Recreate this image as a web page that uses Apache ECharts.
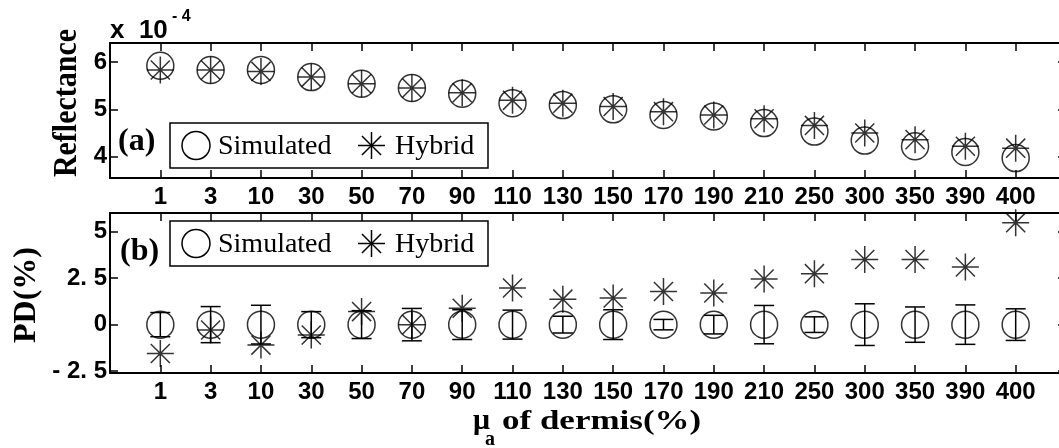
<!DOCTYPE html>
<html>
<head>
<meta charset="utf-8">
<script src="https://cdn.jsdelivr.net/npm/echarts@6/dist/echarts.min.js"></script>
<style>html,body{margin:0;padding:0;background:#fff}#c{width:1059px;height:448px}</style>
</head>
<body>
<div id="c"></div>
<script>
const categories = ['1','3','10','30','50','70','90','110','130','150','170','190','210','250','300','350','390','400'];
// Panel (a): reflectance in units of 1e-4
const reflSimulated = [5.92,5.83,5.83,5.68,5.54,5.45,5.33,5.13,5.09,5.00,4.88,4.85,4.71,4.53,4.34,4.22,4.10,3.97];
const reflHybrid    = [5.83,5.83,5.80,5.68,5.54,5.45,5.35,5.19,5.13,5.06,4.95,4.88,4.80,4.66,4.50,4.36,4.22,4.18];
// Panel (b): percentage difference
const pdSimulated    = [0,0,0,0,0,0,0,0,0,0,0,0,0,0,0,0,0,0];
const pdSimulatedErr = [0.65,0.97,1.04,0.70,0.75,0.87,0.80,0.78,0.45,0.80,0.28,0.50,1.03,0.42,1.12,0.95,1.06,0.85];
const pdHybrid       = [-1.55,-0.29,-1.10,-0.56,0.70,0.00,0.88,1.97,1.37,1.43,1.78,1.70,2.45,2.74,3.50,3.50,3.10,5.48];
// Tick labels
const yTicksTop = [4,5,6];
const yTicksTopLabels = ['4','5','6'];
const yTicksBottom = [-2.5,0,2.5,5];
const yTicksBottomLabels = ['- 2. 5','0','2. 5','5'];

const SANS = '"Liberation Sans", Arial, sans-serif';
const SERIF = '"Liberation Serif", "Times New Roman", serif';
const STAR = 'path://M0,-10L0,10M-10,0L10,0M-7.07,-7.07L7.07,7.07M-7.07,7.07L7.07,-7.07';
const padCats = [''].concat(categories, ['']);

const chart = echarts.init(document.getElementById('c'), null, {renderer: 'canvas'});

function xAxis(grid, pos, labels) {
  return {
    type: 'category', gridIndex: grid, position: pos, data: padCats, boundaryGap: false,
    axisLine: {show: true, onZero: false, lineStyle: {color: '#000', width: 2}},
    axisTick: {show: true, inside: true, length: 8, interval: 0, lineStyle: {color: '#000', width: 1.5}},
    axisLabel: {show: labels, interval: 0, margin: 7, color: '#000', fontFamily: SANS, fontWeight: 'bold', fontSize: 24, hideOverlap: false},
    splitLine: {show: false}
  };
}
function yAxis(grid, pos, min, max, ticks, tickLabels, labels) {
  return {
    type: 'value', gridIndex: grid, position: pos, min: min, max: max,
    axisLine: {show: true, onZero: false, lineStyle: {color: '#000', width: 2}},
    axisTick: {show: true, inside: true, length: 8, customValues: ticks, lineStyle: {color: '#000', width: 1.5}},
    axisLabel: {show: labels, customValues: ticks, margin: 3, color: '#000', fontFamily: SANS, fontWeight: 'bold', fontSize: 24,
      formatter: function (v) { const i = ticks.indexOf(v); return i >= 0 ? tickLabels[i] : ''; }},
    splitLine: {show: false}
  };
}

const circleStyle = {color: 'rgba(0,0,0,0)', borderColor: '#000', borderWidth: 1.5};
const starStyle = {color: 'rgba(0,0,0,0)', borderColor: '#000', borderWidth: 1.5};

function starGroup(cx, cy, r) {
  const d = r * 0.7071;
  const segs = [[0,-r,0,r],[-r,0,r,0],[-d,-d,d,d],[-d,d,d,-d]];
  return segs.map(s => ({type: 'line', shape: {x1: cx+s[0], y1: cy+s[1], x2: cx+s[2], y2: cy+s[3]}, style: {stroke: '#000', lineWidth: 1.5}}));
}
function legendBox(top) {
  const cy = top + 22.5;
  return {
    type: 'group', z: 100, children: [
      {type: 'rect', shape: {x: 170, y: top, width: 318, height: 45}, style: {fill: '#fff', stroke: '#000', lineWidth: 1.5}},
      {type: 'circle', shape: {cx: 196, cy: cy, r: 14}, style: {fill: 'none', stroke: '#000', lineWidth: 1.5}},
      {type: 'text', x: 218, y: cy + 1, style: {text: 'Simulated', font: '28px ' + SERIF, fill: '#000', textAlign: 'left', textVerticalAlign: 'middle'}},
      ...starGroup(371.5, cy, 13.5),
      {type: 'text', x: 395, y: cy + 1, style: {text: 'Hybrid', font: '28px ' + SERIF, fill: '#000', textAlign: 'left', textVerticalAlign: 'middle'}}
    ]
  };
}

const option = {
  animation: false,
  backgroundColor: '#fff',
  grid: [
    {left: 110, top: 43, width: 956, height: 135, containLabel: false, outerBoundsMode: 'none'},
    {left: 110, top: 213, width: 956, height: 160, containLabel: false, outerBoundsMode: 'none'}
  ],
  xAxis: [xAxis(0, 'bottom', true), xAxis(0, 'top', false), xAxis(1, 'bottom', true), xAxis(1, 'top', false)],
  yAxis: [
    yAxis(0, 'left', 3.55, 6.4, yTicksTop, yTicksTopLabels, true),
    yAxis(0, 'right', 3.55, 6.4, yTicksTop, yTicksTopLabels, false),
    yAxis(1, 'left', -2.6, 6, yTicksBottom, yTicksBottomLabels, true),
    yAxis(1, 'right', -2.6, 6, yTicksBottom, yTicksBottomLabels, false)
  ],
  series: [
    {name: 'Simulated', type: 'scatter', xAxisIndex: 0, yAxisIndex: 0, symbol: 'circle', symbolSize: 27, silent: true,
      itemStyle: circleStyle, data: reflSimulated.map((v, i) => [i + 1, v])},
    {name: 'Hybrid', type: 'scatter', xAxisIndex: 0, yAxisIndex: 0, symbol: STAR, symbolSize: 27, silent: true, z: 3,
      itemStyle: starStyle, data: reflHybrid.map((v, i) => [i + 1, v])},
    {name: 'SimulatedErr', type: 'custom', xAxisIndex: 2, yAxisIndex: 2, silent: true,
      data: pdSimulated.map((v, i) => [i + 1, v, pdSimulatedErr[i]]),
      renderItem: function (params, api) {
        const x = api.value(0), y = api.value(1), e = api.value(2);
        const hi = api.coord([x, y + e]), lo = api.coord([x, y - e]);
        const hw = 10, st = {stroke: '#000', lineWidth: 1.5};
        return {type: 'group', children: [
          {type: 'line', shape: {x1: hi[0], y1: hi[1], x2: lo[0], y2: lo[1]}, style: st},
          {type: 'line', shape: {x1: hi[0]-hw, y1: hi[1], x2: hi[0]+hw, y2: hi[1]}, style: st},
          {type: 'line', shape: {x1: lo[0]-hw, y1: lo[1], x2: lo[0]+hw, y2: lo[1]}, style: st}
        ]};
      }},
    {name: 'Simulated', type: 'scatter', xAxisIndex: 2, yAxisIndex: 2, symbol: 'circle', symbolSize: 27, silent: true,
      itemStyle: circleStyle, data: pdSimulated.map((v, i) => [i + 1, v])},
    {name: 'Hybrid', type: 'scatter', xAxisIndex: 2, yAxisIndex: 2, symbol: STAR, symbolSize: 27, silent: true, z: 3,
      itemStyle: starStyle, data: pdHybrid.map((v, i) => [i + 1, v])}
  ],
  graphic: [
    {type: 'text', x: 67, y: 103, rotation: Math.PI / 2, scaleY: 1.15,
      style: {text: 'Reflectance', font: 'bold 30px ' + SERIF, fill: '#000', textAlign: 'center', textVerticalAlign: 'middle'}},
    {type: 'text', x: 27, y: 295, rotation: Math.PI / 2,
      style: {text: 'PD(%)', font: 'bold 32px ' + SERIF, fill: '#000', textAlign: 'center', textVerticalAlign: 'middle'}},
    {type: 'text', x: 110, y: 31,
      style: {text: 'x  10', font: 'bold 26px ' + SANS, fill: '#000', textAlign: 'left', textVerticalAlign: 'middle'}},
    {type: 'text', x: 172, y: 17,
      style: {text: '- 4', font: 'bold 16px ' + SANS, fill: '#000', textAlign: 'left', textVerticalAlign: 'middle'}},
    {type: 'text', x: 118, y: 142, z: 100,
      style: {text: '(a)', font: 'bold 32px ' + SERIF, fill: '#000', textAlign: 'left', textVerticalAlign: 'middle'}},
    {type: 'text', x: 120, y: 252, z: 100,
      style: {text: '(b)', font: 'bold 32px ' + SERIF, fill: '#000', textAlign: 'left', textVerticalAlign: 'middle'}},
    legendBox(123),
    legendBox(221),
    {type: 'text', x: 473, y: 421,
      style: {text: 'μ', font: 'bold 30px ' + SERIF, fill: '#000', textAlign: 'left', textVerticalAlign: 'middle'}},
    {type: 'text', x: 485, y: 440,
      style: {text: 'a', font: 'bold 20px ' + SERIF, fill: '#000', textAlign: 'left', textVerticalAlign: 'middle'}},
    {type: 'text', x: 502, y: 422, scaleX: 1.25,
      style: {text: 'of dermis(%)', font: 'bold 28px ' + SERIF, fill: '#000', textAlign: 'left', textVerticalAlign: 'middle'}}
  ]
};
chart.setOption(option);
</script>
</body>
</html>
